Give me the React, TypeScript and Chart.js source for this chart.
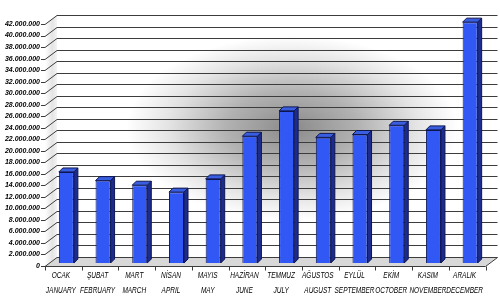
import React, { useEffect, useRef } from "react";
import { Chart, registerables } from "chart.js";

Chart.register(...registerables);

// ---- data ----
const monthsTR = ["OCAK", "ŞUBAT", "MART", "NİSAN", "MAYIS", "HAZİRAN", "TEMMUZ", "AĞUSTOS", "EYLÜL", "EKİM", "KASIM", "ARALIK"];
const monthsEN = ["JANUARY", "FEBRUARY", "MARCH", "APRIL", "MAY", "JUNE", "JULY", "AUGUST", "SEPTEMBER", "OCTOBER", "NOVEMBER", "DECEMBER"];
const values = [15800000, 14300000, 13500000, 12300000, 14600000, 22000000, 26400000, 21800000, 22300000, 23900000, 23100000, 41800000];
const yMin = 0;
const yMax = 42000000;
const yStep = 2000000;

const fmt = (v: number) => String(Math.round(v)).replace(/\B(?=(\d{3})+(?!\d))/g, ".");

// ---- 3D-ish geometry (front plane / back plane offsets relative to the scale) ----
const FRONT = { x: -3, y: 3 };
const BACK = { x: 9, y: -6 };
const BAR_DEPTH = { x: 4, y: 4 };

const FRONT_BLUE = "#3157f4";
const SIDE_BLUE = "#1c2c8e";
const TOP_BLUE = "#3a5ee0";
const EDGE = "#0e1650";

const LABEL_FONT = "italic 9px 'Liberation Sans', Arial, sans-serif";
const LABEL_SQUEEZE = 0.72;

const scenePlugin = {
  id: "scene3d",
  beforeDraw(chart: any) {
    const { ctx, chartArea, scales } = chart;
    const y = scales.y;
    const x = scales.x;
    const L = chartArea.left;
    const R = chartArea.right;
    const ticks: number[] = [];
    for (let v = yMin; v <= yMax + 1; v += yStep) ticks.push(v);
    const y0 = y.getPixelForValue(yMin);
    const yT = y.getPixelForValue(yMax);
    const fL = L + FRONT.x, fR = R + FRONT.x;
    const bL = L + BACK.x, bR = R + BACK.x;
    ctx.save();
    ctx.fillStyle = "#ffffff";
    ctx.fillRect(0, 0, chart.width, chart.height);

    // back wall with radial shading
    const cx = 292, cy = 128;
    ctx.save();
    ctx.beginPath();
    ctx.rect(bL, yT + BACK.y, bR - bL, y0 - yT);
    ctx.clip();
    ctx.translate(cx, cy);
    ctx.scale(1.8, 1);
    const g = ctx.createRadialGradient(0, 0, 0, 0, 0, 92);
    g.addColorStop(0, "#8a8a8a");
    g.addColorStop(0.4, "#b2b2b2");
    g.addColorStop(0.75, "#e4e4e4");
    g.addColorStop(1, "#ffffff");
    ctx.fillStyle = g;
    ctx.fillRect(-200, -200, 400, 400);
    ctx.restore();

    // floor
    ctx.beginPath();
    ctx.moveTo(fL, y0 + FRONT.y);
    ctx.lineTo(fR, y0 + FRONT.y);
    ctx.lineTo(bR, y0 + BACK.y);
    ctx.lineTo(bL, y0 + BACK.y);
    ctx.closePath();
    ctx.fillStyle = "#d8d8d8";
    ctx.fill();

    // left wall
    ctx.beginPath();
    ctx.moveTo(fL, yT + FRONT.y);
    ctx.lineTo(bL, yT + BACK.y);
    ctx.lineTo(bL, y0 + BACK.y);
    ctx.lineTo(fL, y0 + FRONT.y);
    ctx.closePath();
    const lg = ctx.createLinearGradient(fL, 0, bL, 0);
    lg.addColorStop(0, "#ffffff");
    lg.addColorStop(0.6, "#e4e4e4");
    lg.addColorStop(1, "#f4f4f4");
    ctx.fillStyle = lg;
    ctx.fill();

    ctx.lineWidth = 1;
    ctx.strokeStyle = "#3c3c3c";
    ticks.forEach((v) => {
      const py = Math.round(y.getPixelForValue(v)) + 0.5;
      ctx.beginPath();
      ctx.moveTo(bL, py + BACK.y);
      ctx.lineTo(bR, py + BACK.y);
      ctx.stroke();
      ctx.beginPath();
      ctx.moveTo(fL, py + FRONT.y);
      ctx.lineTo(bL, py + BACK.y);
      ctx.stroke();
      ctx.beginPath();
      ctx.moveTo(fL - 4, py + FRONT.y);
      ctx.lineTo(fL, py + FRONT.y);
      ctx.stroke();
    });

    // front axis
    const fy = Math.round(y0) + FRONT.y + 0.5;
    ctx.beginPath();
    ctx.moveTo(fL, fy);
    ctx.lineTo(fR, fy);
    ctx.lineTo(bR, Math.round(y0) + BACK.y + 0.5);
    ctx.stroke();
    const n = x.ticks.length;
    const cw = (R - L) / n;
    for (let k = 0; k <= n; k++) {
      const px = Math.round(L + k * cw + FRONT.x) + 0.5;
      ctx.beginPath();
      ctx.moveTo(px, fy);
      ctx.lineTo(px, fy + 4);
      ctx.stroke();
    }

    // category labels (two lines, condensed italic)
    ctx.fillStyle = "#000";
    ctx.font = LABEL_FONT;
    ctx.textAlign = "center";
    ctx.textBaseline = "middle";
    const labels = chart.data.labels as string[][];
    labels.forEach((lines, i) => {
      const px = x.getPixelForTick(i) - 5.5;
      lines.forEach((t, j) => {
        ctx.save();
        ctx.translate(px, 275.5 + j * 14.5);
        ctx.scale(LABEL_SQUEEZE, 1);
        ctx.fillText(t, 0, 0);
        ctx.restore();
      });
    });
    ctx.restore();
  },
  afterDatasetsDraw(chart: any) {
    const { ctx } = chart;
    const meta = chart.getDatasetMeta(0);
    ctx.save();
    ctx.lineWidth = 1;
    ctx.strokeStyle = EDGE;
    ctx.lineJoin = "round";
    meta.data.forEach((bar: any) => {
      const { x, y, base, width } = bar.getProps(["x", "y", "base", "width"], true);
      const l = x - width / 2;
      const r = x + width / 2;
      const dx = BAR_DEPTH.x, dy = BAR_DEPTH.y;
      ctx.beginPath();
      ctx.moveTo(r, y);
      ctx.lineTo(r + dx, y - dy);
      ctx.lineTo(r + dx, base - dy);
      ctx.lineTo(r, base);
      ctx.closePath();
      ctx.fillStyle = SIDE_BLUE;
      ctx.fill();
      ctx.stroke();
      ctx.beginPath();
      ctx.moveTo(l, y);
      ctx.lineTo(l + dx, y - dy);
      ctx.lineTo(r + dx, y - dy);
      ctx.lineTo(r, y);
      ctx.closePath();
      ctx.fillStyle = TOP_BLUE;
      ctx.fill();
      ctx.stroke();
    });
    ctx.restore();
  },
};

export default function App() {
  const ref = useRef<HTMLCanvasElement | null>(null);
  useEffect(() => {
    if (!ref.current) return;
    Chart.defaults.font.family = "'Liberation Sans', Arial, sans-serif";
    const chart = new Chart(ref.current, {
      type: "bar",
      data: {
        labels: monthsTR.map((t, i) => [t, monthsEN[i]]),
        datasets: [
          {
            data: values,
            backgroundColor: FRONT_BLUE,
            borderColor: EDGE,
            borderWidth: 1,
            barPercentage: 0.41,
            categoryPercentage: 1,
            clip: false as any,
          },
        ],
      },
      options: {
        animation: false,
        responsive: false,
        devicePixelRatio: 1,
        layout: { padding: { top: 21, right: 11.5, left: 0, bottom: 0 } },
        plugins: { legend: { display: false }, tooltip: { enabled: false } },
        scales: {
          x: {
            offset: true,
            grid: { display: false, drawTicks: false },
            border: { display: false },
            ticks: { display: false, autoSkip: false },
            afterFit: (s: any) => {
              s.height = 37;
            },
          },
          y: {
            min: yMin,
            max: yMax,
            grid: { display: false, drawTicks: false },
            border: { display: false },
            ticks: {
              stepSize: yStep,
              labelOffset: 3,
              padding: 8,
              color: "#000",
              font: { size: 7, style: "italic", weight: "bold" },
              callback: (v: any) => fmt(Number(v)),
            },
            afterFit: (s: any) => {
              s.width = 48;
            },
          },
        },
      },
      plugins: [scenePlugin],
    });
    return () => chart.destroy();
  }, []);
  return (
    <div style={{ position: "fixed", left: 0, top: 0, width: 500, height: 300, background: "#fff" }}>
      <canvas ref={ref} width={500} height={300} style={{ display: "block" }} />
    </div>
  );
}
